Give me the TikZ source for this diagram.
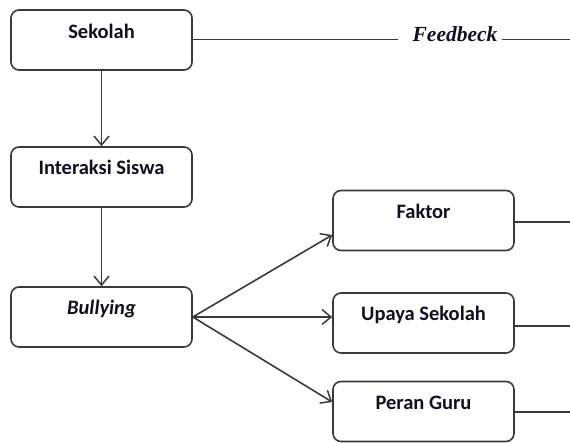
\documentclass[tikz,border=0pt]{standalone}
\usepackage{fontspec}
\setmainfont{Carlito}
\newfontfamily\fbfont{Liberation Serif}
\usetikzlibrary{arrows.meta,calc}
\definecolor{edgegray}{HTML}{3A3A3A}
\definecolor{inkdark}{HTML}{101020}
\begin{document}
\begin{tikzpicture}[x=1pt,y=-1pt,
  box/.style={draw=edgegray,line width=1.6pt,rounded corners=8pt,
    minimum width=181pt,minimum height=60pt,inner sep=0pt},
  boxtext/.style={anchor=base,inner sep=0pt,text=inkdark,
    font=\fontsize{20.5}{24}\selectfont\bfseries},
  link/.style={draw=edgegray,line width=1.6pt},
  flow/.style={link,-{Straight Barb[length=9pt,width=15pt,line width=1.5pt]}}]
\useasboundingbox (0,0) rectangle (570,442);

% left column
\node[box] (sekolah)   at (101.5,40)  {};
\node[box] (interaksi) at (101.5,177) {};
\node[box] (bullying)  at (101.5,317) {};
% right column
\node[box] (faktor) at (423.5,220.5) {};
\node[box] (upaya)  at (423.5,323)   {};
\node[box] (peran)  at (423.5,411.5) {};

% labels near the top of each box
\node[boxtext] (tsekolah)   at ($(sekolah.north)+(0,29)$)     {Sekolah};
\node[boxtext] (tinteraksi) at ($(interaksi.north)+(0,28.5)$) {Interaksi Siswa};
\node[boxtext] (tbullying)  at ($(bullying.north)+(0,28.5)$)  {\itshape Bullying};
\node[boxtext] (tfaktor)    at ($(faktor.north)+(0,28.5)$)    {Faktor};
\node[boxtext] (tupaya)     at ($(upaya.north)+(0,28.5)$)     {Upaya Sekolah};
\node[boxtext] (tperan)     at ($(peran.north)+(0,28.5)$)     {Peran Guru};

% feedback line along the top
\node[anchor=base,inner sep=0pt,text=inkdark,
  font=\fbfont\fontsize{21.5}{24}\selectfont\bfseries\itshape] (fb) at (455,41.7) {Feedbeck};
\coordinate (fbend) at (570,39.5);
\draw[link] ($(sekolah.east)+(0,-0.5)$) -- ($(sekolah.east -| fb.west)+(-14,-0.5)$);
\draw[link] ($(fb.east |- fbend)+(4,0)$) -- (fbend);

% vertical flow
\draw[flow] (sekolah) -- (interaksi);
\draw[flow] (interaksi) -- (bullying);

% branches from bullying
\draw[flow] (bullying.east) -- ($(faktor.west)+(0,14.5)$);
\draw[flow] (bullying.east) -- ($(upaya.west)+(0,-6)$);
\draw[flow] (bullying.east) -- ($(peran.west)+(0,-9.5)$);

% lines leaving the right column
\coordinate (fend) at (570,222);
\coordinate (uend) at (570,326);
\coordinate (pend) at (570,412);
\draw[link] ($(faktor.east)+(0,1.5)$) -- (fend);
\draw[link] ($(upaya.east)+(0,3)$) -- (uend);
\draw[link] ($(peran.east)+(0,0.5)$) -- (pend);
\end{tikzpicture}
\end{document}
